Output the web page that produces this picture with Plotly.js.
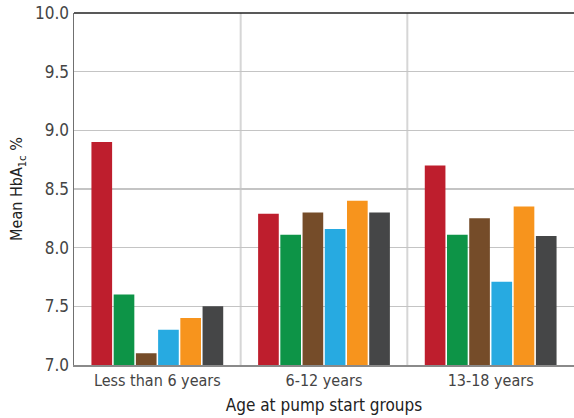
<!DOCTYPE html>
<html><head><meta charset="utf-8">
<script src="https://cdn.plot.ly/plotly-3.0.1.min.js"></script>
<style>html,body{margin:0;padding:0;background:#fff}#chart{width:574px;height:418px}</style>
</head><body><div id="chart"></div>
<script>
const categories = ["Less than 6 years", "6-12 years", "13-18 years"];
const series1 = [8.9, 8.29, 8.7];
const series2 = [7.6, 8.11, 8.11];
const series3 = [7.1, 8.3, 8.25];
const series4 = [7.3, 8.16, 7.71];
const series5 = [7.4, 8.4, 8.35];
const series6 = [7.5, 8.3, 8.1];
const colors = ["#be1e2d", "#0d9447", "#754c29", "#27aae1", "#f7941d", "#454647"];
const yTicks = [7.0, 7.5, 8.0, 8.5, 9.0, 9.5, 10.0];
const yTickText = ["7.0", "7.5", "8.0", "8.5", "9.0", "9.5", "10.0"];

const FONT = "Liberation Sans Narrow, DejaVu Sans Condensed, Arial Narrow, sans-serif";
const all = [series1, series2, series3, series4, series5, series6];
const traces = all.map((s, i) => ({
  type: "bar", x: categories, y: s,
  marker: {color: colors[i]}, showlegend: false, hoverinfo: "skip", cliponaxis: true
}));

const layout = {
  width: 574, height: 418,
  margin: {l: 74, r: 0, t: 13, b: 53},
  paper_bgcolor: "#fff", plot_bgcolor: "#fff",
  barmode: "group", bargap: 0.2, bargroupgap: 0.07,
  font: {family: FONT, color: "#444", size: 16},
  xaxis: {
    type: "category", showgrid: false, showline: true, linecolor: "#8a8a8a", linewidth: 2,
    ticks: "", tickfont: {family: FONT, size: 16, color: "#444"},
    title: {text: "Age at pump start groups", font: {family: FONT, size: 17, color: "#222"}, standoff: 10},
    fixedrange: true
  },
  yaxis: {
    range: [7, 10], tickvals: yTicks, ticktext: yTickText,
    showgrid: true, gridcolor: "#c4c4c4", gridwidth: 1.5, zeroline: false,
    showline: true, linecolor: "#707070", linewidth: 1.5, ticks: "",
    tickfont: {family: FONT, size: 17, color: "#444"},
    title: {text: "Mean HbA<sub>1c</sub> %", font: {family: FONT, size: 16, color: "#222"}, standoff: 8},
    fixedrange: true
  },
  shapes: [
    {type: "line", xref: "x", yref: "paper", x0: 0.5, x1: 0.5, y0: 0, y1: 1, line: {color: "#d6d6d6", width: 2}, layer: "below"},
    {type: "line", xref: "x", yref: "paper", x0: 1.5, x1: 1.5, y0: 0, y1: 1, line: {color: "#d6d6d6", width: 2}, layer: "below"},
    {type: "line", xref: "paper", yref: "paper", x0: 0, x1: 1, y0: 1, y1: 1, line: {color: "#222", width: 1.5}}
  ]
};
Plotly.newPlot("chart", traces, layout, {displayModeBar: false, staticPlot: true});
</script></body></html>
